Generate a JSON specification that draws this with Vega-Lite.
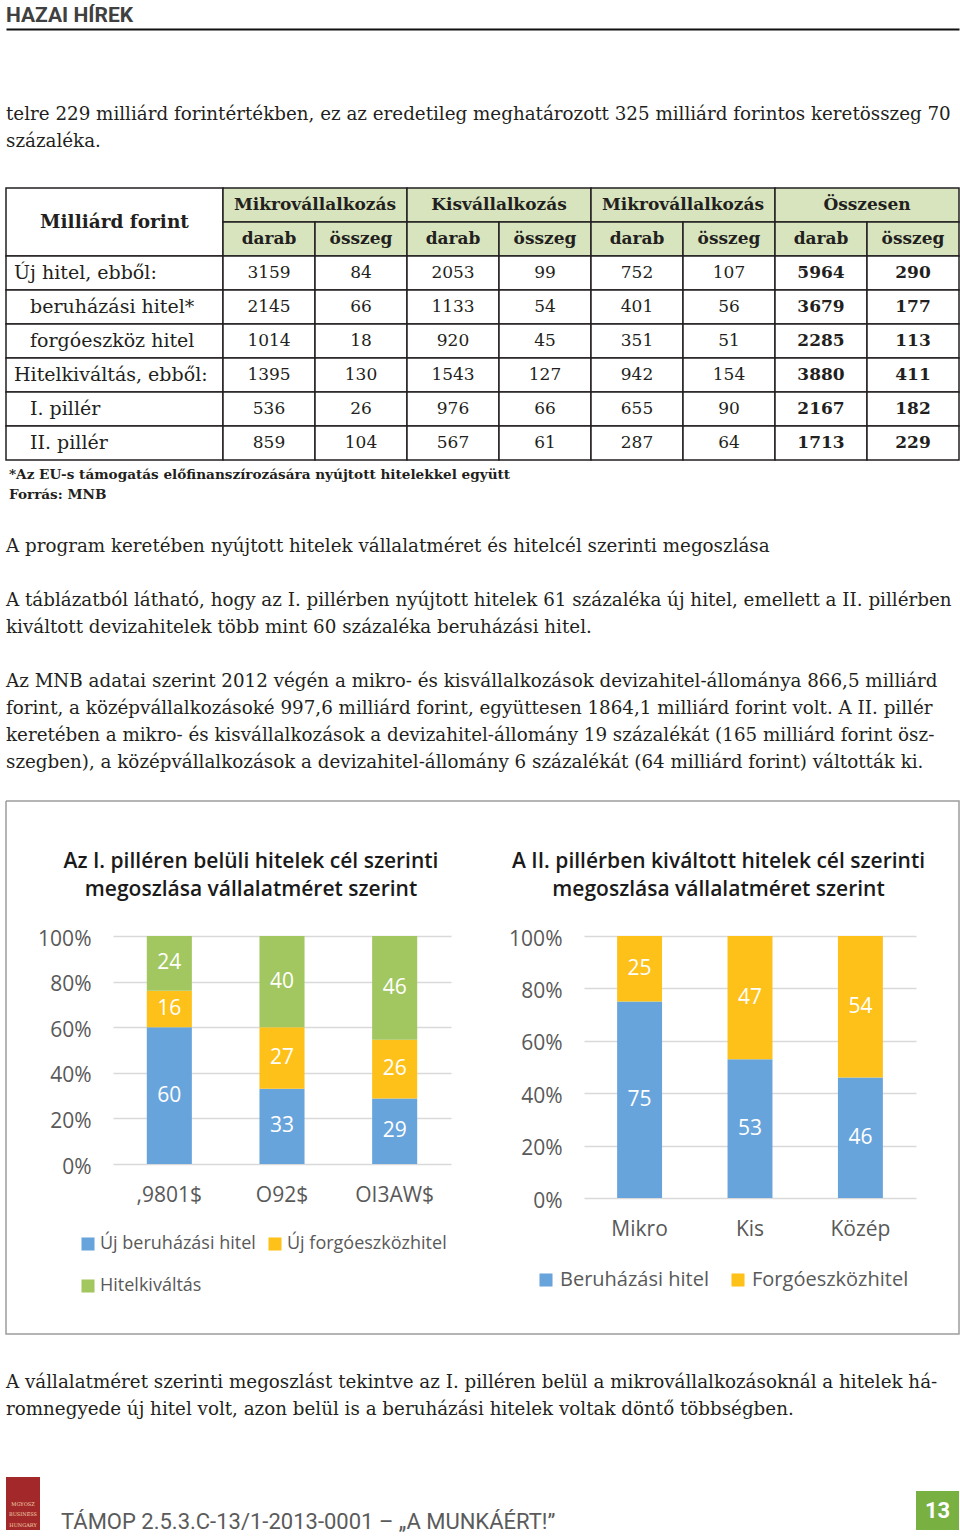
{
"$schema": "https://vega.github.io/schema/vega-lite/v6.json",
"background": "#ffffff",
"padding": {"left": 5, "right": 2, "top": 0, "bottom": 0},
"spacing": 0,
"config": {
  "view": {"stroke": null},
  "concat": {"spacing": 0}
},
"datasets": {
  "proza": [
    {"blokk": "p1", "sor": 1, "szoveg": "telre 229 milliárd forintértékben, ez az eredetileg meghatározott 325 milliárd forintos keretösszeg 70"},
    {"blokk": "p1", "sor": 2, "szoveg": "százaléka."},
    {"blokk": "lab", "sor": 1, "szoveg": "*Az EU-s támogatás előfinanszírozására nyújtott hitelekkel együtt"},
    {"blokk": "lab", "sor": 2, "szoveg": "Forrás: MNB"},
    {"blokk": "cim", "sor": 1, "szoveg": "A program keretében nyújtott hitelek vállalatméret és hitelcél szerinti megoszlása"},
    {"blokk": "p2", "sor": 1, "szoveg": "A táblázatból látható, hogy az I. pillérben nyújtott hitelek 61 százaléka új hitel, emellett a II. pillérben"},
    {"blokk": "p2", "sor": 2, "szoveg": "kiváltott devizahitelek több mint 60 százaléka beruházási hitel."},
    {"blokk": "p3", "sor": 1, "szoveg": "Az MNB adatai szerint 2012 végén a mikro- és kisvállalkozások devizahitel-állománya 866,5 milliárd"},
    {"blokk": "p3", "sor": 2, "szoveg": "forint, a középvállalkozásoké 997,6 milliárd forint, együttesen 1864,1 milliárd forint volt. A II. pillér"},
    {"blokk": "p3", "sor": 3, "szoveg": "keretében a mikro- és kisvállalkozások a devizahitel-állomány 19 százalékát (165 milliárd forint ösz-"},
    {"blokk": "p3", "sor": 4, "szoveg": "szegben), a középvállalkozások a devizahitel-állomány 6 százalékát (64 milliárd forint) váltották ki."},
    {"blokk": "p4", "sor": 1, "szoveg": "A vállalatméret szerinti megoszlást tekintve az I. pilléren belül a mikrovállalkozásoknál a hitelek há-"},
    {"blokk": "p4", "sor": 2, "szoveg": "romnegyede új hitel volt, azon belül is a beruházási hitelek voltak döntő többségben."}
  ],
  "tabla": [
    {"az": "r1", "sor": "Új hitel, ebből:", "szint": 0, "mikro_darab": 3159, "mikro_osszeg": 84, "kis_darab": 2053, "kis_osszeg": 99, "kozep_darab": 752, "kozep_osszeg": 107, "ossz_darab": 5964, "ossz_osszeg": 290},
    {"az": "r2", "sor": "beruházási hitel*", "szint": 1, "mikro_darab": 2145, "mikro_osszeg": 66, "kis_darab": 1133, "kis_osszeg": 54, "kozep_darab": 401, "kozep_osszeg": 56, "ossz_darab": 3679, "ossz_osszeg": 177},
    {"az": "r3", "sor": "forgóeszköz hitel", "szint": 1, "mikro_darab": 1014, "mikro_osszeg": 18, "kis_darab": 920, "kis_osszeg": 45, "kozep_darab": 351, "kozep_osszeg": 51, "ossz_darab": 2285, "ossz_osszeg": 113},
    {"az": "r4", "sor": "Hitelkiváltás, ebből:", "szint": 0, "mikro_darab": 1395, "mikro_osszeg": 130, "kis_darab": 1543, "kis_osszeg": 127, "kozep_darab": 942, "kozep_osszeg": 154, "ossz_darab": 3880, "ossz_osszeg": 411},
    {"az": "r5", "sor": "I. pillér", "szint": 1, "mikro_darab": 536, "mikro_osszeg": 26, "kis_darab": 976, "kis_osszeg": 66, "kozep_darab": 655, "kozep_osszeg": 90, "ossz_darab": 2167, "ossz_osszeg": 182},
    {"az": "r6", "sor": "II. pillér", "szint": 1, "mikro_darab": 859, "mikro_osszeg": 104, "kis_darab": 567, "kis_osszeg": 61, "kozep_darab": 287, "kozep_osszeg": 64, "ossz_darab": 1713, "ossz_osszeg": 229}
  ],
  "elsoPiller": [
    {"meret": ",9801$", "cel": "Új beruházási hitel", "arany": 60},
    {"meret": ",9801$", "cel": "Új forgóeszközhitel", "arany": 16},
    {"meret": ",9801$", "cel": "Hitelkiváltás", "arany": 24},
    {"meret": "O92$", "cel": "Új beruházási hitel", "arany": 33},
    {"meret": "O92$", "cel": "Új forgóeszközhitel", "arany": 27},
    {"meret": "O92$", "cel": "Hitelkiváltás", "arany": 40},
    {"meret": "OI3AW$", "cel": "Új beruházási hitel", "arany": 29},
    {"meret": "OI3AW$", "cel": "Új forgóeszközhitel", "arany": 26},
    {"meret": "OI3AW$", "cel": "Hitelkiváltás", "arany": 46}
  ],
  "masodikPiller": [
    {"meret": "Mikro", "cel": "Beruházási hitel", "arany": 75},
    {"meret": "Mikro", "cel": "Forgóeszközhitel", "arany": 25},
    {"meret": "Kis", "cel": "Beruházási hitel", "arany": 53},
    {"meret": "Kis", "cel": "Forgóeszközhitel", "arany": 47},
    {"meret": "Közép", "cel": "Beruházási hitel", "arany": 46},
    {"meret": "Közép", "cel": "Forgóeszközhitel", "arany": 54}
  ]
},
"vconcat": [
  {
    "width": 953, "height": 29,
    "data": {"values": [{"rovat": "HAZAI HÍREK"}]},
    "mark": {"type": "text", "align": "left", "baseline": "middle", "font": "Roboto", "fontWeight": "bold", "fontSize": 21, "color": "#404040", "dy": 1.5},
    "encoding": {
      "x": {"datum": 0, "type": "quantitative", "scale": {"domain": [0, 1]}, "axis": {"labels": false, "ticks": false, "grid": false, "title": null, "domainColor": "#111111", "domainWidth": 2}},
      "text": {"field": "rovat"}
    }
  },
  {"width": 953, "height": 71.5, "data": {"values": []}, "mark": "text", "encoding": {}},
  {
    "width": 953, "height": 54,
    "data": {"name": "proza"},
    "transform": [{"filter": {"field": "blokk", "equal": "p1"}}],
    "mark": {"type": "text", "align": "left", "baseline": "middle", "font": "DejaVu Serif", "fontSize": 18.3, "color": "#231f20"},
    "encoding": {
      "x": {"datum": 0, "type": "quantitative", "scale": {"domain": [0, 1]}, "axis": null},
      "y": {"field": "sor", "type": "ordinal", "axis": null},
      "text": {"field": "szoveg"}
    }
  },
  {"width": 953, "height": 31.75, "data": {"values": []}, "mark": "text", "encoding": {}},
  {
    "hconcat": [
      {
        "width": 217, "height": 272,
        "resolve": {"scale": {"y": "independent"}},
        "layer": [
          {
            "data": {"values": [{"sav": "fejlec", "felirat": "Milliárd forint"}]},
            "encoding": {"y": {"field": "sav", "type": "nominal", "scale": {"domain": ["fejlec", "t1", "t2", "t3"], "paddingInner": 0, "paddingOuter": 0}, "axis": null}},
            "layer": [
              {"mark": {"type": "rect", "fill": "#ffffff", "stroke": "#231f20", "strokeWidth": 1.5}},
              {"mark": {"type": "text", "font": "DejaVu Serif", "fontSize": 18.5, "fontWeight": "bold", "color": "#231f20"}, "encoding": {"text": {"field": "felirat"}}}
            ]
          },
          {
            "data": {"name": "tabla"},
            "encoding": {"y": {"field": "az", "type": "nominal", "scale": {"domain": ["h1", "h2", "r1", "r2", "r3", "r4", "r5", "r6"], "paddingInner": 0, "paddingOuter": 0}, "axis": null}},
            "layer": [
              {"mark": {"type": "rect", "fill": "#ffffff", "stroke": "#231f20", "strokeWidth": 1.5}},
              {"mark": {"type": "text", "align": "left", "font": "DejaVu Serif", "fontSize": 19, "color": "#231f20"},
               "encoding": {
                 "x": {"field": "szint", "type": "ordinal", "scale": {"type": "point", "domain": [0, 1], "range": [8, 24], "padding": 0}, "axis": null},
                 "text": {"field": "sor"}
               }}
            ]
          }
        ]
      },
      {
        "width": 736, "height": 272,
        "resolve": {"scale": {"x": "independent"}},
        "layer": [
          {
            "data": {"values": [
              {"cs": "g1", "az": "h1", "csoport": "Mikrovállalkozás"},
              {"cs": "g2", "az": "h1", "csoport": "Kisvállalkozás"},
              {"cs": "g3", "az": "h1", "csoport": "Mikrovállalkozás"},
              {"cs": "g4", "az": "h1", "csoport": "Összesen"}
            ]},
            "encoding": {
              "x": {"field": "cs", "type": "nominal", "scale": {"domain": ["g1", "g2", "g3", "g4"], "paddingInner": 0, "paddingOuter": 0}, "axis": null},
              "y": {"field": "az", "type": "nominal", "scale": {"domain": ["h1", "h2", "r1", "r2", "r3", "r4", "r5", "r6"], "paddingInner": 0, "paddingOuter": 0}, "axis": null}
            },
            "layer": [
              {"mark": {"type": "rect", "fill": "#d7e4bd", "stroke": "#231f20", "strokeWidth": 1.5}},
              {"mark": {"type": "text", "font": "DejaVu Serif", "fontSize": 17, "fontWeight": "bold", "color": "#231f20"}, "encoding": {"text": {"field": "csoport"}}}
            ]
          },
          {
            "data": {"values": [
              {"oszlop": "mikro_darab", "az": "h2", "fejlec": "darab"},
              {"oszlop": "mikro_osszeg", "az": "h2", "fejlec": "összeg"},
              {"oszlop": "kis_darab", "az": "h2", "fejlec": "darab"},
              {"oszlop": "kis_osszeg", "az": "h2", "fejlec": "összeg"},
              {"oszlop": "kozep_darab", "az": "h2", "fejlec": "darab"},
              {"oszlop": "kozep_osszeg", "az": "h2", "fejlec": "összeg"},
              {"oszlop": "ossz_darab", "az": "h2", "fejlec": "darab"},
              {"oszlop": "ossz_osszeg", "az": "h2", "fejlec": "összeg"}
            ]},
            "encoding": {
              "x": {"field": "oszlop", "type": "nominal", "scale": {"domain": ["mikro_darab", "mikro_osszeg", "kis_darab", "kis_osszeg", "kozep_darab", "kozep_osszeg", "ossz_darab", "ossz_osszeg"], "paddingInner": 0, "paddingOuter": 0}, "axis": null},
              "y": {"field": "az", "type": "nominal", "scale": {"domain": ["h1", "h2", "r1", "r2", "r3", "r4", "r5", "r6"], "paddingInner": 0, "paddingOuter": 0}, "axis": null}
            },
            "layer": [
              {"mark": {"type": "rect", "fill": "#d7e4bd", "stroke": "#231f20", "strokeWidth": 1.5}},
              {"mark": {"type": "text", "font": "DejaVu Serif", "fontSize": 17, "fontWeight": "bold", "color": "#231f20"}, "encoding": {"text": {"field": "fejlec"}}}
            ]
          },
          {
            "data": {"name": "tabla"},
            "transform": [{"fold": ["mikro_darab", "mikro_osszeg", "kis_darab", "kis_osszeg", "kozep_darab", "kozep_osszeg", "ossz_darab", "ossz_osszeg"], "as": ["oszlop", "ertek"]}],
            "encoding": {
              "x": {"field": "oszlop", "type": "nominal", "scale": {"domain": ["mikro_darab", "mikro_osszeg", "kis_darab", "kis_osszeg", "kozep_darab", "kozep_osszeg", "ossz_darab", "ossz_osszeg"], "paddingInner": 0, "paddingOuter": 0}, "axis": null},
              "y": {"field": "az", "type": "nominal", "scale": {"domain": ["h1", "h2", "r1", "r2", "r3", "r4", "r5", "r6"], "paddingInner": 0, "paddingOuter": 0}, "axis": null}
            },
            "layer": [
              {"mark": {"type": "rect", "fill": "#ffffff", "stroke": "#231f20", "strokeWidth": 1.5}},
              {"transform": [{"filter": {"not": {"field": "oszlop", "oneOf": ["ossz_darab", "ossz_osszeg"]}}}],
               "mark": {"type": "text", "font": "DejaVu Serif", "fontSize": 17, "color": "#231f20"},
               "encoding": {"text": {"field": "ertek", "type": "nominal"}}},
              {"transform": [{"filter": {"field": "oszlop", "oneOf": ["ossz_darab", "ossz_osszeg"]}}],
               "mark": {"type": "text", "font": "DejaVu Serif", "fontSize": 17, "fontWeight": "bold", "color": "#231f20"},
               "encoding": {"text": {"field": "ertek", "type": "nominal"}}}
            ]
          }
        ]
      }
    ],
    "spacing": 0,
    "bounds": "flush"
  },
  {"width": 953, "height": 3.25, "data": {"values": []}, "mark": "text", "encoding": {}},
  {
    "width": 953, "height": 40,
    "data": {"name": "proza"},
    "transform": [{"filter": {"field": "blokk", "equal": "lab"}}],
    "mark": {"type": "text", "align": "left", "baseline": "middle", "font": "DejaVu Serif", "fontSize": 13.6, "fontWeight": "bold", "color": "#231f20", "dx": 3},
    "encoding": {
      "x": {"datum": 0, "type": "quantitative", "scale": {"domain": [0, 1]}, "axis": null},
      "y": {"field": "sor", "type": "ordinal", "axis": null},
      "text": {"field": "szoveg"}
    }
  },
  {"width": 953, "height": 27.5, "data": {"values": []}, "mark": "text", "encoding": {}},
  {
    "width": 953, "height": 27,
    "data": {"name": "proza"},
    "transform": [{"filter": {"field": "blokk", "equal": "cim"}}],
    "mark": {"type": "text", "align": "left", "baseline": "middle", "font": "DejaVu Serif", "fontSize": 18.3, "color": "#231f20"},
    "encoding": {
      "x": {"datum": 0, "type": "quantitative", "scale": {"domain": [0, 1]}, "axis": null},
      "y": {"field": "sor", "type": "ordinal", "axis": null},
      "text": {"field": "szoveg"}
    }
  },
  {"width": 953, "height": 27, "data": {"values": []}, "mark": "text", "encoding": {}},
  {
    "width": 953, "height": 54,
    "data": {"name": "proza"},
    "transform": [{"filter": {"field": "blokk", "equal": "p2"}}],
    "mark": {"type": "text", "align": "left", "baseline": "middle", "font": "DejaVu Serif", "fontSize": 18.3, "color": "#231f20"},
    "encoding": {
      "x": {"datum": 0, "type": "quantitative", "scale": {"domain": [0, 1]}, "axis": null},
      "y": {"field": "sor", "type": "ordinal", "axis": null},
      "text": {"field": "szoveg"}
    }
  },
  {"width": 953, "height": 27, "data": {"values": []}, "mark": "text", "encoding": {}},
  {
    "width": 953, "height": 108,
    "data": {"name": "proza"},
    "transform": [{"filter": {"field": "blokk", "equal": "p3"}}],
    "mark": {"type": "text", "align": "left", "baseline": "middle", "font": "DejaVu Serif", "fontSize": 18.3, "color": "#231f20"},
    "encoding": {
      "x": {"datum": 0, "type": "quantitative", "scale": {"domain": [0, 1]}, "axis": null},
      "y": {"field": "sor", "type": "ordinal", "axis": null},
      "text": {"field": "szoveg"}
    }
  },
  {"width": 953, "height": 23.25, "data": {"values": []}, "mark": "text", "encoding": {}},
  {
    "resolve": {"scale": {"color": "independent"}, "legend": {"color": "independent"}},
    "hconcat": [
      {"width": 107, "height": 533, "data": {"values": []}, "mark": "text", "encoding": {},
       "view": {"stroke": "#9d9d9d", "strokeWidth": 1.5, "strokeDash": [107, 533, 640, 0]}},
      {
        "width": 338, "height": 533,
        "view": {"stroke": "#9d9d9d", "strokeWidth": 1.5, "strokeDash": [338, 533, 338, 533]},
        "title": {"text": ["Az I. pilléren belüli hitelek cél szerinti", "megoszlása vállalatméret szerint"], "font": "Open Sans", "fontSize": 21, "fontWeight": 600, "color": "#1a1a1a", "lineHeight": 28, "anchor": "middle", "frame": "group", "dx": -31, "offset": -99},
        "data": {"name": "elsoPiller"},
        "transform": [
          {"window": [{"op": "row_number", "as": "sorrend"}]},
          {"stack": "arany", "groupby": ["meret"], "sort": [{"field": "sorrend", "order": "ascending"}], "offset": "normalize", "as": ["a0", "a1"]}
        ],
        "encoding": {
          "x": {"field": "meret", "type": "nominal", "scale": {"domain": [",9801$", "O92$", "OI3AW$"], "paddingInner": 0.6, "paddingOuter": 0.3},
                "axis": {"orient": "bottom", "offset": -170, "labelAngle": 0, "labelFont": "Open Sans", "labelFontSize": 21, "labelColor": "#595959", "labelPadding": 20, "domain": false, "ticks": false, "title": null}}
        },
        "layer": [
          {
            "mark": {"type": "bar"},
            "encoding": {
              "y": {"field": "a0", "type": "quantitative", "scale": {"domain": [0, 1], "range": [363, 135], "nice": false},
                    "axis": {"values": [0, 0.2, 0.4, 0.6, 0.8, 1], "format": ".0%", "labelFont": "Open Sans", "labelFontSize": 21, "labelColor": "#595959", "labelPadding": 22, "labelOffset": 3, "domain": false, "ticks": false, "grid": true, "gridColor": "#d9d9d9", "gridWidth": 1.3, "title": null}},
              "y2": {"field": "a1"},
              "color": {"field": "cel", "type": "nominal",
                        "scale": {"domain": ["Új beruházási hitel", "Új forgóeszközhitel", "Hitelkiváltás"], "range": ["#68a4dc", "#fdc11a", "#a2c760"]},
                        "legend": {"orient": "none", "legendX": -34, "legendY": 434, "direction": "horizontal", "columns": 2, "title": null, "symbolType": "square", "symbolSize": 170, "symbolStrokeWidth": 0, "labelFont": "Open Sans", "labelFontSize": 18, "labelColor": "#595959", "labelOffset": 3, "columnPadding": 10, "rowPadding": 24, "padding": 0, "labelLimit": 400}}
            }
          },
          {
            "transform": [
              {"fold": ["a0", "a1"], "as": ["hatar", "pozicio"]},
              {"aggregate": [{"op": "mean", "field": "pozicio", "as": "kozep"}], "groupby": ["meret", "cel", "arany"]}
            ],
            "mark": {"type": "text", "font": "Open Sans", "fontSize": 21, "color": "#ffffff"},
            "encoding": {
              "y": {"field": "kozep", "type": "quantitative", "scale": {"domain": [0, 1], "range": [363, 135], "nice": false},
                    "axis": {"values": [0, 0.2, 0.4, 0.6, 0.8, 1], "format": ".0%", "labelFont": "Open Sans", "labelFontSize": 21, "labelColor": "#595959", "labelPadding": 22, "labelOffset": 3, "domain": false, "ticks": false, "grid": true, "gridColor": "#d9d9d9", "gridWidth": 1.3, "title": null}},
              "text": {"field": "arany", "type": "nominal"}
            }
          }
        ]
      },
      {"width": 133, "height": 533, "data": {"values": []}, "mark": "text", "encoding": {},
       "view": {"stroke": "#9d9d9d", "strokeWidth": 1.5, "strokeDash": [133, 533, 133, 533]}},
      {
        "width": 332, "height": 533,
        "view": {"stroke": "#9d9d9d", "strokeWidth": 1.5, "strokeDash": [332, 533, 332, 533]},
        "title": {"text": ["A II. pillérben kiváltott hitelek cél szerinti", "megoszlása vállalatméret szerint"], "font": "Open Sans", "fontSize": 21, "fontWeight": 600, "color": "#1a1a1a", "lineHeight": 28, "anchor": "middle", "frame": "group", "dx": -31.5, "offset": -99},
        "data": {"name": "masodikPiller"},
        "transform": [
          {"window": [{"op": "row_number", "as": "sorrend"}]},
          {"stack": "arany", "groupby": ["meret"], "sort": [{"field": "sorrend", "order": "ascending"}], "offset": "normalize", "as": ["a0", "a1"]}
        ],
        "encoding": {
          "x": {"field": "meret", "type": "nominal", "scale": {"domain": ["Mikro", "Kis", "Közép"], "paddingInner": 0.593, "paddingOuter": 0.3},
                "axis": {"orient": "bottom", "offset": -136, "labelAngle": 0, "labelFont": "Open Sans", "labelFontSize": 21, "labelColor": "#595959", "labelPadding": 20, "domain": false, "ticks": false, "title": null}}
        },
        "layer": [
          {
            "mark": {"type": "bar"},
            "encoding": {
              "y": {"field": "a0", "type": "quantitative", "scale": {"domain": [0, 1], "range": [397, 135], "nice": false},
                    "axis": {"values": [0, 0.2, 0.4, 0.6, 0.8, 1], "format": ".0%", "labelFont": "Open Sans", "labelFontSize": 21, "labelColor": "#595959", "labelPadding": 22, "labelOffset": 3, "domain": false, "ticks": false, "grid": true, "gridColor": "#d9d9d9", "gridWidth": 1.3, "title": null}},
              "y2": {"field": "a1"},
              "color": {"field": "cel", "type": "nominal",
                        "scale": {"domain": ["Beruházási hitel", "Forgóeszközhitel"], "range": ["#68a4dc", "#fdc11a"]},
                        "legend": {"orient": "none", "legendX": -48, "legendY": 469, "direction": "horizontal", "columns": 2, "title": null, "symbolType": "square", "symbolSize": 170, "symbolStrokeWidth": 0, "labelFont": "Open Sans", "labelFontSize": 20, "labelColor": "#595959", "labelOffset": 4, "columnPadding": 19, "padding": 0, "labelLimit": 400}}
            }
          },
          {
            "transform": [
              {"fold": ["a0", "a1"], "as": ["hatar", "pozicio"]},
              {"aggregate": [{"op": "mean", "field": "pozicio", "as": "kozep"}], "groupby": ["meret", "cel", "arany"]}
            ],
            "mark": {"type": "text", "font": "Open Sans", "fontSize": 21, "color": "#ffffff"},
            "encoding": {
              "y": {"field": "kozep", "type": "quantitative", "scale": {"domain": [0, 1], "range": [397, 135], "nice": false},
                    "axis": {"values": [0, 0.2, 0.4, 0.6, 0.8, 1], "format": ".0%", "labelFont": "Open Sans", "labelFontSize": 21, "labelColor": "#595959", "labelPadding": 22, "labelOffset": 3, "domain": false, "ticks": false, "grid": true, "gridColor": "#d9d9d9", "gridWidth": 1.3, "title": null}},
              "text": {"field": "arany", "type": "nominal"}
            }
          }
        ]
      },
      {"width": 43, "height": 533, "data": {"values": []}, "mark": "text", "encoding": {},
       "view": {"stroke": "#9d9d9d", "strokeWidth": 1.5, "strokeDash": [619, 533]}}
    ],
    "spacing": 0,
    "bounds": "flush"
  },
  {"width": 953, "height": 33.75, "data": {"values": []}, "mark": "text", "encoding": {}},
  {
    "width": 953, "height": 54,
    "data": {"name": "proza"},
    "transform": [{"filter": {"field": "blokk", "equal": "p4"}}],
    "mark": {"type": "text", "align": "left", "baseline": "middle", "font": "DejaVu Serif", "fontSize": 18.3, "color": "#231f20"},
    "encoding": {
      "x": {"datum": 0, "type": "quantitative", "scale": {"domain": [0, 1]}, "axis": null},
      "y": {"field": "sor", "type": "ordinal", "axis": null},
      "text": {"field": "szoveg"}
    }
  },
  {"width": 953, "height": 53.5, "data": {"values": []}, "mark": "text", "encoding": {}},
  {
    "hconcat": [
      {
        "width": 34, "height": 53,
        "view": {"fill": "#a3282a", "stroke": null},
        "data": {"values": [{"felirat": "MGYOSZ", "s": 1}, {"felirat": "BUSINESS", "s": 2}, {"felirat": "HUNGARY", "s": 3}]},
        "mark": {"type": "text", "font": "DejaVu Serif", "fontSize": 5, "color": "#f1d7ae"},
        "encoding": {
          "y": {"field": "s", "type": "ordinal", "scale": {"type": "band", "paddingInner": 0, "paddingOuter": 1.15, "align": 1}, "axis": null},
          "text": {"field": "felirat"}
        }
      },
      {"width": 21, "height": 53, "data": {"values": []}, "mark": "text", "encoding": {}},
      {
        "width": 855, "height": 53,
        "data": {"values": [{"projekt": "TÁMOP 2.5.3.C-13/1-2013-0001 – „A MUNKÁÉRT!”"}]},
        "mark": {"type": "text", "align": "left", "baseline": "middle", "font": "Roboto", "fontSize": 22, "color": "#5b5b5b", "dy": 18},
        "encoding": {
          "x": {"datum": 0, "type": "quantitative", "scale": {"domain": [0, 1]}, "axis": null},
          "text": {"field": "projekt"}
        }
      },
      {
        "width": 43, "height": 53,
        "data": {"values": [{"oldal": "13"}]},
        "encoding": {"y": {"field": "oldal", "type": "nominal", "scale": {"paddingInner": 0, "paddingOuter": 0.18, "align": 1}, "axis": null}},
        "layer": [
          {"mark": {"type": "rect", "fill": "#78b142"}},
          {"mark": {"type": "text", "font": "Roboto", "fontWeight": "bold", "fontSize": 22, "color": "#ffffff"}, "encoding": {"text": {"field": "oldal"}}}
        ]
      }
    ],
    "spacing": 0,
    "bounds": "flush"
  }
]
}
